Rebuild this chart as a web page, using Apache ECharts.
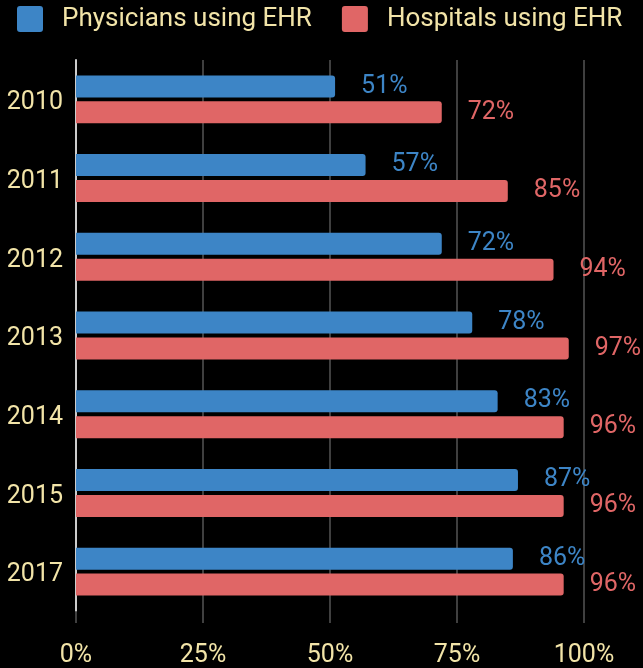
<!DOCTYPE html>
<html>
<head>
<meta charset="utf-8">
<style>
  html, body { margin: 0; padding: 0; background: #000; }
  #chart { width: 643px; height: 668px; }
</style>
<script src="https://cdn.jsdelivr.net/npm/echarts@6/dist/echarts.min.js"></script>
</head>
<body>
<div id="chart"></div>
<script>
// EHR adoption by year
const years = ['2010', '2011', '2012', '2013', '2014', '2015', '2017'];
const physicians = [51, 57, 72, 78, 83, 87, 86];
const hospitals = [72, 85, 94, 97, 96, 96, 96];
const xTicks = [0, 25, 50, 75, 100];

const blue = '#3d85c6';
const red = '#e06666';
const cream = '#f2e4a8';
const font = 'Roboto';

// square legend swatch with slightly rounded corners
const swatch = 'path://M3,0 L23,0 Q26,0 26,3 L26,23 Q26,26 23,26 L3,26 Q0,26 0,23 L0,3 Q0,0 3,0 Z';

const chart = echarts.init(document.getElementById('chart'));

function barSeries(name, values, color) {
  return {
    name: name,
    type: 'bar',
    data: values,
    barWidth: 22,
    barGap: '18%',
    itemStyle: { color: color, borderRadius: [0, 3, 3, 0] },
    label: {
      show: true,
      position: 'right',
      distance: 26,
      formatter: '{c}%',
      color: color,
      fontSize: 25,
      fontFamily: font,
      padding: [3, 0, 0, 0]
    }
  };
}

chart.setOption({
  backgroundColor: '#000',
  animation: false,
  legend: {
    top: 6,
    left: 17,
    padding: 0,
    itemWidth: 26,
    itemHeight: 26,
    itemGap: 30,
    icon: swatch,
    textStyle: { color: cream, fontSize: 26, fontFamily: font, padding: [0, 0, 0, 14] },
    data: ['Physicians using EHR', 'Hospitals using EHR']
  },
  grid: { left: 76, right: 59, top: 60, bottom: 56 },
  xAxis: {
    type: 'value',
    min: xTicks[0],
    max: xTicks[xTicks.length - 1],
    interval: xTicks[1] - xTicks[0],
    axisLine: { show: false },
    axisTick: { show: true, length: 12, lineStyle: { color: '#555', width: 1.5 } },
    splitLine: { show: true, lineStyle: { color: '#555', width: 1.5 } },
    axisLabel: {
      formatter: '{value}%',
      color: cream,
      fontSize: 25,
      fontFamily: font,
      margin: 32
    }
  },
  yAxis: {
    type: 'category',
    inverse: true,
    data: years,
    axisLine: { show: true, lineStyle: { color: '#ccc', width: 2 } },
    axisTick: { show: false },
    axisLabel: {
      margin: 13,
      formatter: '{yr|{value}}',
      rich: {
        yr: { color: cream, fontSize: 25, fontFamily: font, padding: [7, 0, 0, 0] }
      }
    }
  },
  series: [
    barSeries('Physicians using EHR', physicians, blue),
    barSeries('Hospitals using EHR', hospitals, red)
  ]
});
</script>
</body>
</html>
